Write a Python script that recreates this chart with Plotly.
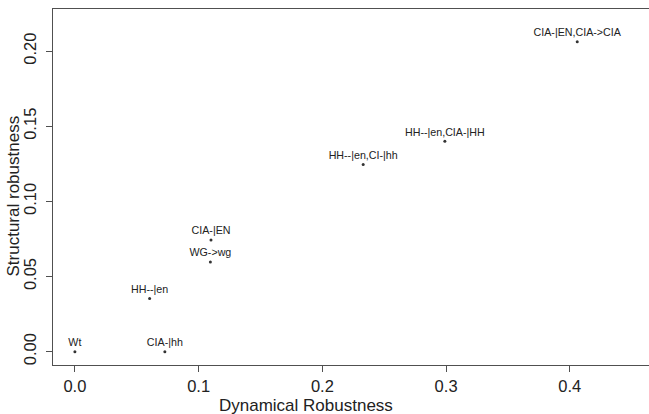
import plotly.graph_objects as go

labels = ["Wt", "CIA-|hh", "HH--|en", "WG->wg", "CIA-|EN",
          "HH--|en,CI-|hh", "HH--|en,CIA-|HH", "CIA-|EN,CIA->CIA"]
dyn_rob = [0.0, 0.0727, 0.0604, 0.1095, 0.110, 0.233, 0.299, 0.406]
str_rob = [0.0, 0.0, 0.0353, 0.0596, 0.0743, 0.1246, 0.140, 0.2062]
x_ticks = [0.0, 0.1, 0.2, 0.3, 0.4]
x_ticktext = ["0.0", "0.1", "0.2", "0.3", "0.4"]
y_ticks = [0.0, 0.05, 0.10, 0.15, 0.20]
y_ticktext = ["0.00", "0.05", "0.10", "0.15", "0.20"]

FONT = "Liberation Sans, Arial, Helvetica, sans-serif"
AX = "#505050"
TXT = "#222222"

fig = go.Figure()
fig.add_trace(go.Scatter(
    x=dyn_rob, y=str_rob, mode="markers+text",
    text=labels, textposition="top center",
    textfont=dict(family=FONT, size=10.7, color=TXT),
    marker=dict(size=3, color="#333333"),
    cliponaxis=False, showlegend=False, hoverinfo="skip",
))

fig.update_layout(
    width=649, height=414,
    margin=dict(l=53, r=0, t=9, b=49),
    paper_bgcolor="white", plot_bgcolor="white",
    font=dict(family=FONT, color=TXT),
    xaxis=dict(
        range=[-0.0177, 0.464], tickvals=x_ticks, ticktext=x_ticktext,
        showgrid=False, zeroline=False, showline=True, linecolor=AX, linewidth=1,
        mirror=True, ticks="outside", ticklen=6, tickcolor=AX,
        tickfont=dict(family=FONT, size=16.5, color=TXT),
    ),
    yaxis=dict(
        range=[-0.0089, 0.228], tickvals=y_ticks, ticktext=y_ticktext,
        showgrid=False, zeroline=False, showline=True, linecolor=AX, linewidth=1,
        ticks="outside", ticklen=6, tickcolor=AX, tickangle=-90,
        ticklabelstandoff=3,
        tickfont=dict(family=FONT, size=16.5, color=TXT),
    ),
    annotations=[
        dict(text="Dynamical Robustness", xref="paper", yref="paper",
             x=(306 - 53) / 596, y=(365 - 405) / 356, xanchor="center", yanchor="middle",
             showarrow=False, font=dict(family=FONT, size=17, color=TXT)),
        dict(text="Structural robustness", xref="paper", yref="paper",
             x=(12.5 - 53) / 596, y=(365 - 196) / 356, xanchor="center", yanchor="middle",
             textangle=-90, showarrow=False, font=dict(family=FONT, size=17, color=TXT)),
    ],
)

fig.write_html("out.html", config={"displayModeBar": False},
               post_script="document.body.style.margin='0';document.body.style.overflow='hidden';")
